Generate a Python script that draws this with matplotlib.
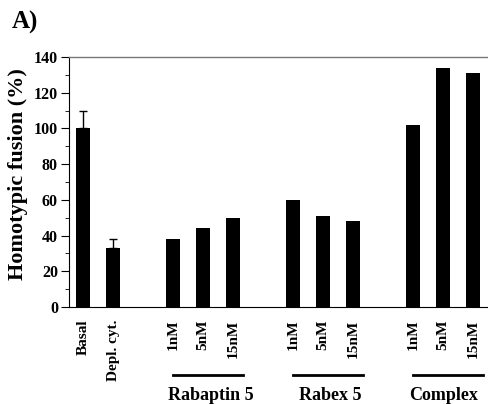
import numpy as np
import matplotlib.pyplot as plt
from matplotlib.ticker import MultipleLocator

plt.rcParams['font.family'] = ['Liberation Serif', 'DejaVu Serif']
plt.rcParams['font.weight'] = 'bold'

# data
labels = ['Basal', 'Depl. cyt.', '1nM', '5nM', '15nM', '1nM', '5nM', '15nM', '1nM', '5nM', '15nM']
positions = [0, 1, 3, 4, 5, 7, 8, 9, 11, 12, 13]
values = [100, 33, 38, 44, 50, 60, 51, 48, 102, 134, 131]
err_up = [10, 5, 0, 0, 0, 0, 0, 0, 0, 0, 0]
groups = ['Rabaptin 5', 'Rabex 5', 'Complex']
group_starts = [3, 7, 11]
label_centers = [4.27, 8.23, 12.0]

fig = plt.figure(figsize=(4.88, 4.04), dpi=100)
ax = fig.add_axes([0.1414, 0.240, 0.859, 0.619])

ax.bar(positions, values, width=0.47, color='black')
for p, v, e in zip(positions, values, err_up):
    if e > 0:
        ax.errorbar(p, v, yerr=[[0], [e]], fmt='none', ecolor='black', elinewidth=1, capsize=3, capthick=1)

ax.set_xlim(-0.47, 13.5)
ax.set_ylim(0, 140)
ax.yaxis.set_major_locator(MultipleLocator(20))
ax.yaxis.set_minor_locator(MultipleLocator(10))
ax.tick_params(axis='y', which='major', length=6, labelsize=11.5, direction='out', pad=2)
ax.tick_params(axis='y', which='minor', length=3, direction='out')
ax.set_xticks(positions)
ax.set_xticklabels(labels, rotation=90, fontsize=11, fontweight='bold')
ax.tick_params(axis='x', length=0, pad=9)
for t in ax.get_yticklabels():
    t.set_fontweight('bold')

ax.spines['right'].set_visible(False)
ax.spines['top'].set_color('#777777')
ax.spines['top'].set_linewidth(1.0)

ax.set_ylabel('Homotypic fusion (%)', fontsize=16, fontweight='bold')
ax.yaxis.set_label_coords(-0.098, 0.532)

# group lines and labels
for g, s, c in zip(groups, group_starts, label_centers):
    ax.plot([s, s + 2.33], [-0.272 * 140] * 2, color='black', lw=2, clip_on=False)
    ax.text(c, -0.352 * 140, g, ha='center', va='center', fontsize=13, fontweight='bold')

fig.text(0.025, 0.945, 'A)', fontsize=18, fontweight='bold', ha='left', va='center')

fig.savefig('out.png', dpi=100)
